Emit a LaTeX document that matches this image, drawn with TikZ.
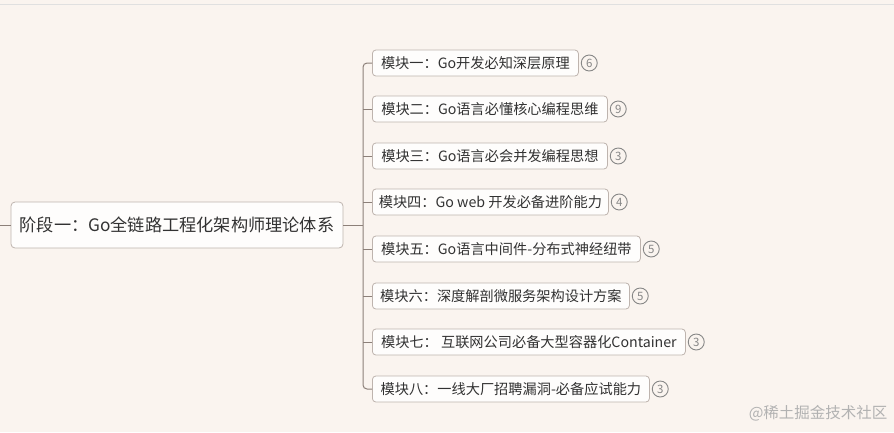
\documentclass[tikz,border=0pt]{standalone}
\usepackage{fontspec}
\setmainfont{Noto Sans CJK SC}
\newfontfamily\cjk{Noto Sans CJK SC}
\usetikzlibrary{positioning}

\definecolor{hgrund}{RGB}{250,244,239}
\definecolor{kasten}{RGB}{254,253,252}
\definecolor{rand}{RGB}{190,180,174}
\definecolor{linie}{RGB}{140,128,121}
\definecolor{schrift}{RGB}{50,50,50}
\definecolor{kreisfarbe}{RGB}{135,135,135}

\tikzset{
  wurzelbox/.style={draw=rand, fill=kasten, rounded corners=4pt, line width=0.8pt,
    minimum height=46pt, inner sep=0pt, text=schrift, font=\cjk\fontsize{17.2}{19}\selectfont},
  modulbox/.style={draw=rand, fill=kasten, rounded corners=3.5pt, line width=0.8pt,
    minimum height=26pt, inner sep=0pt, anchor=west, text=schrift, font=\cjk\fontsize{14.2}{16}\selectfont},
  zahlkreis/.style={circle, draw=kreisfarbe, line width=0.9pt, minimum size=16pt, inner sep=0pt,
    text=kreisfarbe, font=\cjk\fontsize{11.5}{12}\selectfont},
  ast/.style={draw=linie, line width=1pt}
}

\begin{document}
\begin{tikzpicture}[x=1pt,y=-1pt]

%HINTERGRUND
\fill [hgrund] (0,0) rectangle (894,432);
\useasboundingbox (0,0) rectangle (894,432);
\draw [white!88!black, line width=0.6pt] (0,4) -- (894,4);

%WURZEL
\node [wurzelbox, minimum width=332pt] (wurzel) at (177,225) {阶段一：Go全链路工程化架构师理论体系};
\coordinate (vorher) at (0,225);
\draw [ast] (vorher) -- (wurzel.west);

%MODULE (von oben)
\node [modulbox, minimum width=206pt] (modul1) at (372,63) {模块一：Go开发必知深层原理};
\node [modulbox, minimum width=235pt] (modul2) at (372,109) {模块二：Go语言必懂核心编程思维};
\node [modulbox, minimum width=235pt] (modul3) at (372,156) {模块三：Go语言必会并发编程思想};
\node [modulbox, minimum width=236pt] (modul4) at (372,202) {模块四：Go web 开发必备进阶能力};
\node [modulbox, minimum width=268pt] (modul5) at (372,249) {模块五：Go语言中间件-分布式神经纽带};
\node [modulbox, minimum width=257pt] (modul6) at (372,296) {模块六：深度解剖微服务架构设计方案};
\node [modulbox, minimum width=313pt] (modul7) at (372,342) {模块七： 互联网公司必备大型容器化Container};
\node [modulbox, minimum width=277pt] (modul8) at (372,389) {模块八：一线大厂招聘漏洞-必备应试能力};

%ZAHLEN
\node [zahlkreis, right=2pt of modul1] (zahl1) {6};
\node [zahlkreis, right=2pt of modul2] (zahl2) {9};
\node [zahlkreis, right=2pt of modul3] (zahl3) {3};
\node [zahlkreis, right=2pt of modul4] (zahl4) {4};
\node [zahlkreis, right=2pt of modul5] (zahl5) {5};
\node [zahlkreis, right=2pt of modul6] (zahl6) {5};
\node [zahlkreis, right=2pt of modul7] (zahl7) {3};
\node [zahlkreis, right=2pt of modul8] (zahl8) {3};

%STAMM UND AESTE
\coordinate (stamm) at (363,225);
\draw [ast] (wurzel.east) -- (stamm);
\draw [ast, rounded corners=4pt] (modul1.west) -| (stamm) |- (modul8.west);
\draw [ast] (modul2.west) -- (modul2.west -| stamm);
\draw [ast] (modul3.west) -- (modul3.west -| stamm);
\draw [ast] (modul4.west) -- (modul4.west -| stamm);
\draw [ast] (modul5.west) -- (modul5.west -| stamm);
\draw [ast] (modul6.west) -- (modul6.west -| stamm);
\draw [ast] (modul7.west) -- (modul7.west -| stamm);

%WASSERZEICHEN
\node [anchor=east, text=black!30, font=\cjk\fontsize{15.5}{17}\selectfont] (zeichen) at (891,413) {@稀土掘金技术社区};

\end{tikzpicture}
\end{document}
